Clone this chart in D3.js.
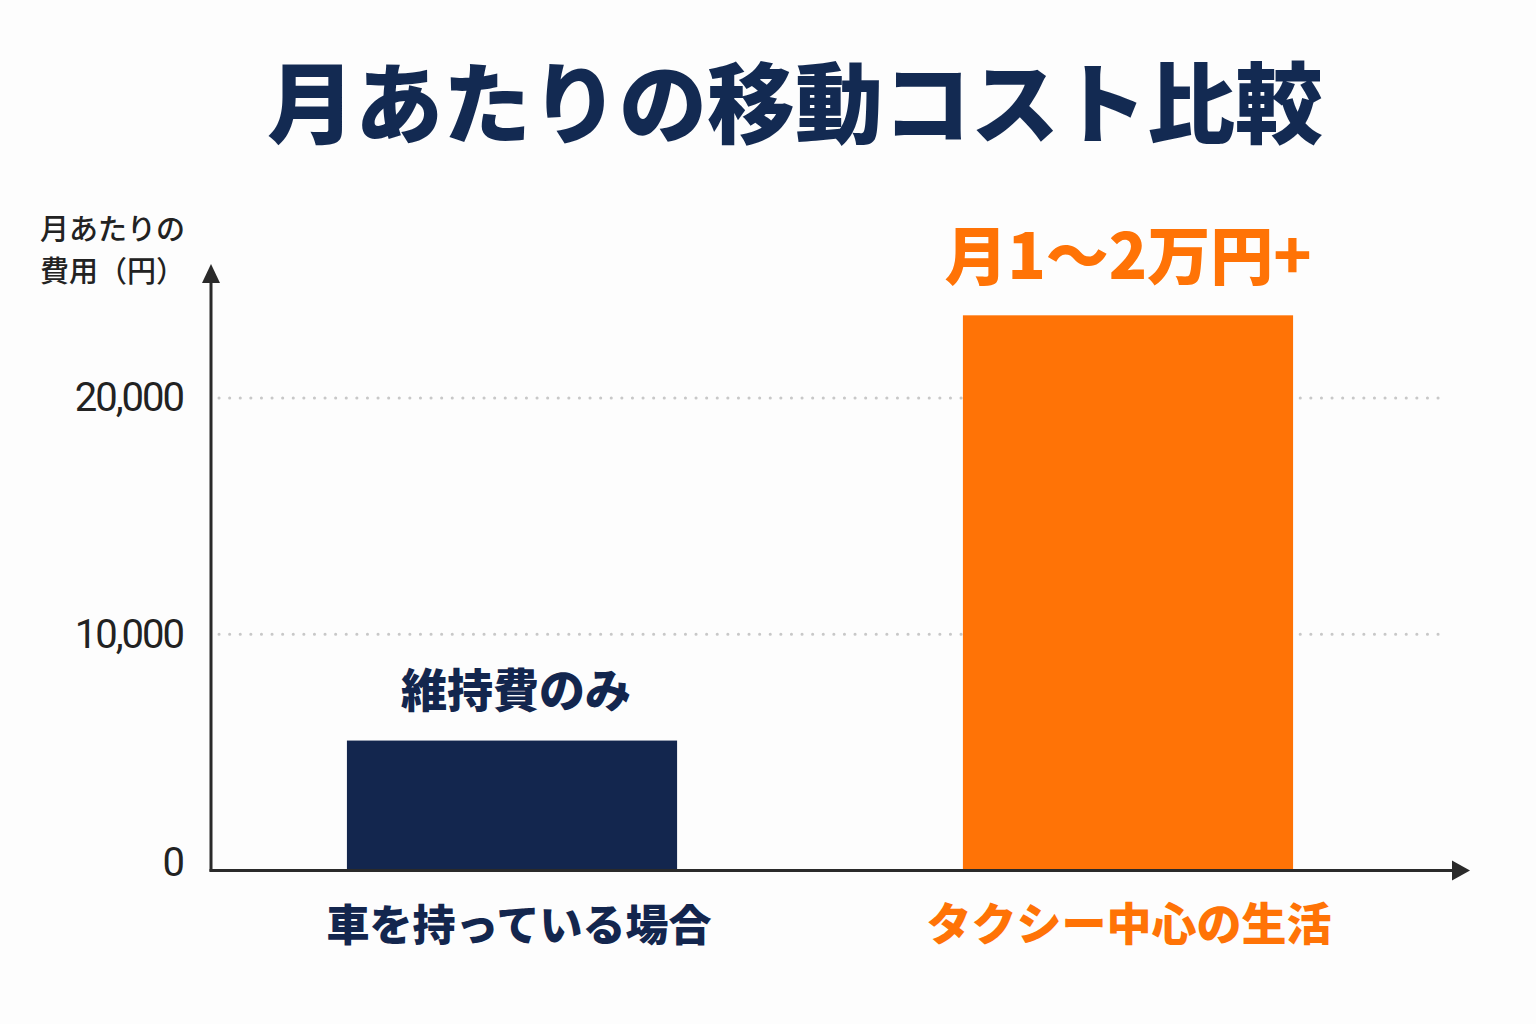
<!DOCTYPE html>
<html><head><meta charset="utf-8">
<script src="https://cdn.jsdelivr.net/npm/d3@7"></script>
<style>
html,body{margin:0;padding:0;background:#fdfdfd;}
svg{display:block;}
text{font-family:"Noto Sans CJK JP","Noto Sans",sans-serif;}
</style></head>
<body>
<script>
const categories = ["車を持っている場合", "タクシー中心の生活"];
const values = [5500, 23500];
const barLabels = ["維持費のみ", "月1〜2万円+"];
const tickValues = [0, 10000, 20000];
const titleText = "月あたりの移動コスト比較";
const yLabelLines = ["月あたりの", "費用（円）"];
const colors = ["#13264e", "#ff7306"];

const W = 1536, H = 1024;
const svg = d3.select("body").append("svg").attr("width", W).attr("height", H);
svg.append("rect").attr("width", W).attr("height", H).attr("fill", "#fdfdfd");

const axisX = 211, axisY = 870.5;
const y = d3.scaleLinear().domain([0, 20000]).range([axisY, 398]);
const x = d3.scaleBand().domain(categories).range([205, 1435]).paddingInner(0.464).paddingOuter(0.2304);

// title
svg.append("text").attr("x", 795).attr("y", 136).attr("text-anchor", "middle")
  .attr("font-size", 88).attr("font-weight", 900).attr("fill", "#132a52").text(titleText);

// y label
yLabelLines.forEach((t, i) => {
  svg.append("text").attr("x", 40).attr("y", 240 + i * 42).attr("font-size", 29)
    .attr("font-weight", 500).attr("fill", "#222").text(t);
});

// gridlines
svg.append("g").selectAll("line").data(tickValues.filter(d => d > 0)).join("line")
  .attr("x1", axisX + 8).attr("x2", 1443).attr("y1", d => y(d)).attr("y2", d => y(d))
  .attr("stroke", "#c8c8c8").attr("stroke-width", 3).attr("stroke-dasharray", "0.1 10.5")
  .attr("stroke-linecap", "round");

// y axis tick labels
const yAxis = d3.axisLeft(y).tickValues(tickValues).tickSize(0).tickPadding(0)
  .tickFormat(d3.format(","));
const gy = svg.append("g").attr("transform", `translate(183,0)`).call(yAxis);
gy.attr("font-family", null).attr("font-size", null);
gy.select(".domain").remove();
gy.selectAll("text").style("font-family", "Roboto, 'Noto Sans', sans-serif")
  .attr("font-size", 40).attr("fill", "#222").attr("letter-spacing", -2);
gy.selectAll(".tick").filter(d => d === 0).select("text").attr("dy", "0.12em");

// bars
svg.append("g").selectAll("rect").data(values).join("rect")
  .attr("x", (d, i) => x(categories[i])).attr("width", x.bandwidth())
  .attr("y", d => y(d)).attr("height", d => y(0) - y(d))
  .attr("fill", (d, i) => colors[i]);

// axes lines
svg.append("line").attr("x1", axisX).attr("x2", axisX).attr("y1", axisY + 1).attr("y2", 280)
  .attr("stroke", "#2a2a2a").attr("stroke-width", 3);
svg.append("path").attr("d", `M${axisX - 9},${283} L${axisX},${264} L${axisX + 9},${283} Z`).attr("fill", "#2a2a2a");
svg.append("line").attr("x1", axisX - 1.5).attr("x2", 1455).attr("y1", axisY).attr("y2", axisY)
  .attr("stroke", "#2a2a2a").attr("stroke-width", 3);
svg.append("path").attr("d", `M1452,${axisY - 10} L1470,${axisY} L1452,${axisY + 10} Z`).attr("fill", "#2a2a2a");

// bar labels
const labelSizes = [46, 63];
const labelGap = [34, 36];
svg.append("g").selectAll("text").data(values).join("text")
  .attr("x", (d, i) => x(categories[i]) + x.bandwidth() / 2 + (i === 0 ? 4 : 0))
  .attr("y", (d, i) => y(d) - labelGap[i])
  .attr("text-anchor", "middle").attr("font-size", (d, i) => labelSizes[i])
  .attr("font-weight", 900).attr("fill", (d, i) => colors[i])
  .text((d, i) => barLabels[i]);

// category labels
const catSizes = [43, 45];
svg.append("g").selectAll("text").data(categories).join("text")
  .attr("x", (d, i) => x(d) + x.bandwidth() / 2 + (i === 0 ? 7 : 1))
  .attr("y", 941).attr("text-anchor", "middle").attr("font-size", (d, i) => catSizes[i])
  .attr("font-weight", 900).attr("fill", (d, i) => colors[i]).text(d => d);
</script>
</body></html>
